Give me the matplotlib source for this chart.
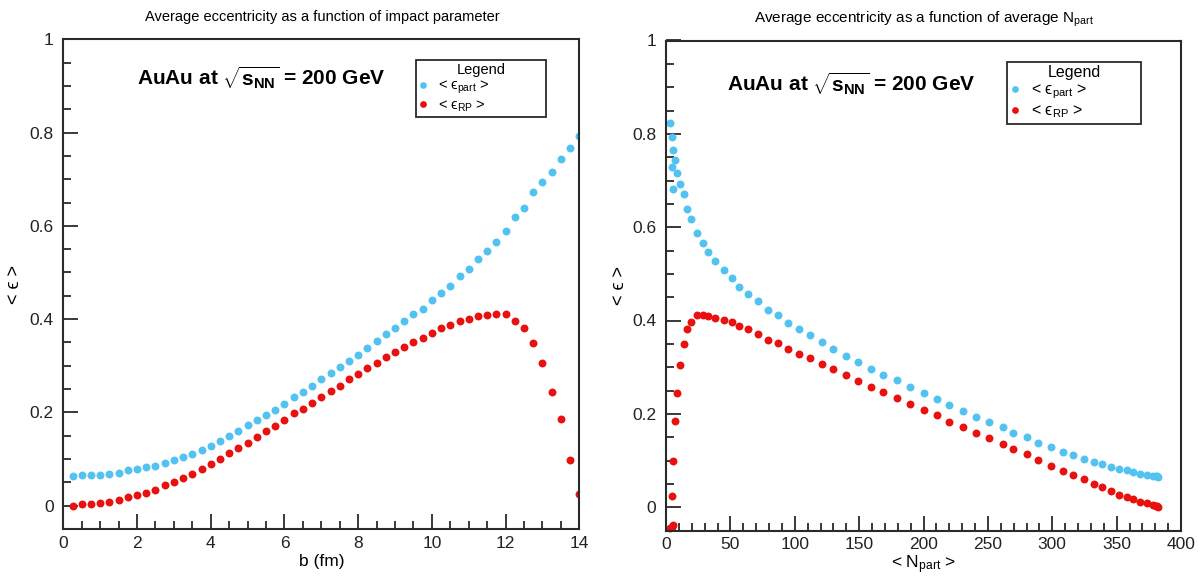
#!/usr/bin/env python3

import matplotlib
matplotlib.use("Agg")
import matplotlib.pyplot as pyplot
from matplotlib.ticker import MultipleLocator, FuncFormatter

FIG_W, FIG_H = 1201, 578

BLUE = "#52c3f1"
RED = "#e8110f"
FRAME = "#2a2a2a"

# impact parameter bins (fm)
b_fm = [0.25, 0.5, 0.75, 1.0, 1.25, 1.5, 1.75, 2.0, 2.25, 2.5, 2.75, 3.0,
        3.25, 3.5, 3.75, 4.0, 4.25, 4.5, 4.75, 5.0, 5.25, 5.5, 5.75, 6.0,
        6.25, 6.5, 6.75, 7.0, 7.25, 7.5, 7.75, 8.0, 8.25, 8.5, 8.75, 9.0,
        9.25, 9.5, 9.75, 10.0, 10.25, 10.5, 10.75, 11.0, 11.25, 11.5, 11.75,
        12.0, 12.25, 12.5, 12.75, 13.0, 13.25, 13.5, 13.75, 14.0]

eps_part = [0.064, 0.066, 0.066, 0.066, 0.068, 0.071, 0.076, 0.079, 0.082,
            0.086, 0.092, 0.097, 0.104, 0.111, 0.119, 0.129, 0.138, 0.150,
            0.160, 0.172, 0.183, 0.194, 0.206, 0.219, 0.232, 0.244, 0.257,
            0.272, 0.284, 0.297, 0.311, 0.324, 0.339, 0.354, 0.369, 0.382,
            0.395, 0.412, 0.422, 0.441, 0.456, 0.471, 0.492, 0.508, 0.528,
            0.547, 0.566, 0.588, 0.618, 0.638, 0.672, 0.693, 0.716, 0.743,
            0.766, 0.793]

eps_rp = [0.000, 0.003, 0.003, 0.005, 0.008, 0.012, 0.018, 0.022, 0.027,
          0.034, 0.044, 0.050, 0.060, 0.069, 0.078, 0.089, 0.101, 0.114,
          0.124, 0.135, 0.148, 0.160, 0.171, 0.183, 0.198, 0.208, 0.221,
          0.233, 0.246, 0.257, 0.271, 0.283, 0.296, 0.306, 0.319, 0.329,
          0.340, 0.351, 0.359, 0.371, 0.382, 0.388, 0.396, 0.401, 0.406,
          0.409, 0.412, 0.412, 0.397, 0.382, 0.349, 0.305, 0.244, 0.185,
          0.098, 0.025]

# average number of participants for each b bin
npart = [382.2, 381.5, 380.5, 378.6, 373.4, 368.3, 363.1, 357.9, 352.0,
         346.0, 339.0, 332.5, 324.3, 316.2, 308.0, 298.9, 289.1, 280.3,
         269.9, 261.4, 251.0, 240.7, 230.3, 220.0, 210.2, 200.1, 189.7,
         179.1, 168.7, 159.2, 148.8, 139.8, 129.9, 120.9, 111.8, 103.0,
         95.0, 86.7, 79.0, 71.2, 63.9, 56.9, 51.0, 44.8, 38.0, 32.9, 29.0,
         23.8, 19.7, 16.6, 13.6, 10.6, 8.7, 6.9, 5.5, 4.4]

# most peripheral bins (b > 14 fm), only visible vs Npart
npart_periph = [2.8, 4.7, 5.2]
eps_part_periph = [0.823, 0.729, 0.681]
eps_rp_periph = [-0.045, -0.042, -0.039]

pyplot.rcParams["font.family"] = ["Liberation Sans", "DejaVu Sans"]
pyplot.rcParams["mathtext.fontset"] = "custom"
pyplot.rcParams["mathtext.rm"] = "Liberation Sans"
pyplot.rcParams["mathtext.it"] = "Liberation Sans:italic"
pyplot.rcParams["mathtext.bf"] = "Liberation Sans:bold"

LABEL_PART = "< \u03f5$_{\\rm part}$ >"
LABEL_RP = "< \u03f5$_{\\rm RP}$ >"


def pxRect(x0, y0, x1, y1):
    """Axes rect in figure fractions from pixel box (top-left origin)."""
    return [x0/FIG_W, 1 - y1/FIG_H, (x1-x0)/FIG_W, (y1-y0)/FIG_H]


def styleAxes(ax, xmax, xmajor, xminor):
    ax.set_xlim(0, xmax)
    ax.set_ylim(-0.05, 1.0)
    ax.xaxis.set_major_locator(MultipleLocator(xmajor))
    ax.xaxis.set_minor_locator(MultipleLocator(xminor))
    ax.yaxis.set_major_locator(MultipleLocator(0.2))
    ax.yaxis.set_minor_locator(MultipleLocator(0.05))
    fmt = FuncFormatter(lambda v, pos: "%g" % round(v, 3))
    ax.xaxis.set_major_formatter(fmt)
    ax.yaxis.set_major_formatter(fmt)
    ax.tick_params(which="both", direction="in", top=False, right=False,
                   color=FRAME, width=1.3, labelsize=12.5, labelcolor="#222222")
    ax.tick_params(which="major", length=11, pad=5)
    ax.tick_params(which="minor", length=5.5)
    ax.tick_params(axis="y", which="major", pad=7)
    for s in ax.spines.values():
        s.set_color(FRAME)
        s.set_linewidth(1.5)


def drawLegend(ax, anchor, size):
    leg = ax.legend(title="Legend", loc="upper left", bbox_to_anchor=anchor,
                    mode="expand", borderaxespad=0, fontsize=size,
                    title_fontsize=size, fancybox=False, framealpha=1,
                    edgecolor=FRAME, handlelength=0.6, handletextpad=0.7,
                    labelspacing=0.15, borderpad=0.2, markerscale=0.85)
    leg.get_frame().set_linewidth(1.3)


figure = pyplot.figure(figsize=(FIG_W/100, FIG_H/100), dpi=100)

# --- eccentricity vs impact parameter
ax = figure.add_axes(pxRect(63.3, 39.3, 579.3, 529))
ax.plot(b_fm, eps_part, "o", color=BLUE, ms=5.7, mew=0, label=LABEL_PART)
ax.plot(b_fm, eps_rp, "o", color=RED, ms=5.7, mew=0, label=LABEL_RP)
styleAxes(ax, 14, 2, 0.5)
ax.set_xlabel("b (fm)", fontsize=12.5)
ax.xaxis.set_label_coords(0.5, -0.052)
ax.set_ylabel("< \u03f5 >", fontsize=13)
ax.yaxis.set_label_coords(-0.078, 0.5)
ax.text(0.384, 0.921, r"AuAu at $\sqrt{\mathbf{s}_{\mathbf{NN}}}$ = 200 GeV",
        transform=ax.transAxes, ha="center", va="center", fontsize=15,
        fontweight="bold")
drawLegend(ax, (0.6835, 0.958, 0.252, 0), 10.5)
figure.text(322/FIG_W, 1 - 17/FIG_H,
            "Average eccentricity as a function of impact parameter",
            ha="center", va="center", fontsize=10.5)

# --- eccentricity vs average Npart
ax = figure.add_axes(pxRect(666, 40.5, 1181, 530.5))
ax.plot(npart, eps_part, "o", color=BLUE, ms=5.7, mew=0, label=LABEL_PART)
ax.plot(npart, eps_rp, "o", color=RED, ms=5.7, mew=0, label=LABEL_RP)
ax.plot(npart_periph, eps_part_periph, "o", color=BLUE, ms=5.7, mew=0)
ax.plot(npart_periph, eps_rp_periph, "o", color=RED, ms=5.7, mew=0, clip_on=False)
styleAxes(ax, 400, 50, 10)
ax.set_xlabel(r"< N$_{\rm part}$ >", fontsize=12.5)
ax.xaxis.set_label_coords(0.5, -0.046)
ax.set_ylabel("< \u03f5 >", fontsize=13)
ax.yaxis.set_label_coords(-0.074, 0.5)
ax.text(0.359, 0.913, r"AuAu at $\sqrt{\mathbf{s}_{\mathbf{NN}}}$ = 200 GeV",
        transform=ax.transAxes, ha="center", va="center", fontsize=15,
        fontweight="bold")
drawLegend(ax, (0.662, 0.956, 0.260, 0), 11.5)
figure.text(924/FIG_W, 1 - 19/FIG_H,
            r"Average eccentricity as a function of average N$_{\rm part}$",
            ha="center", va="center", fontsize=11)

figure.savefig("out.png", dpi=100)
